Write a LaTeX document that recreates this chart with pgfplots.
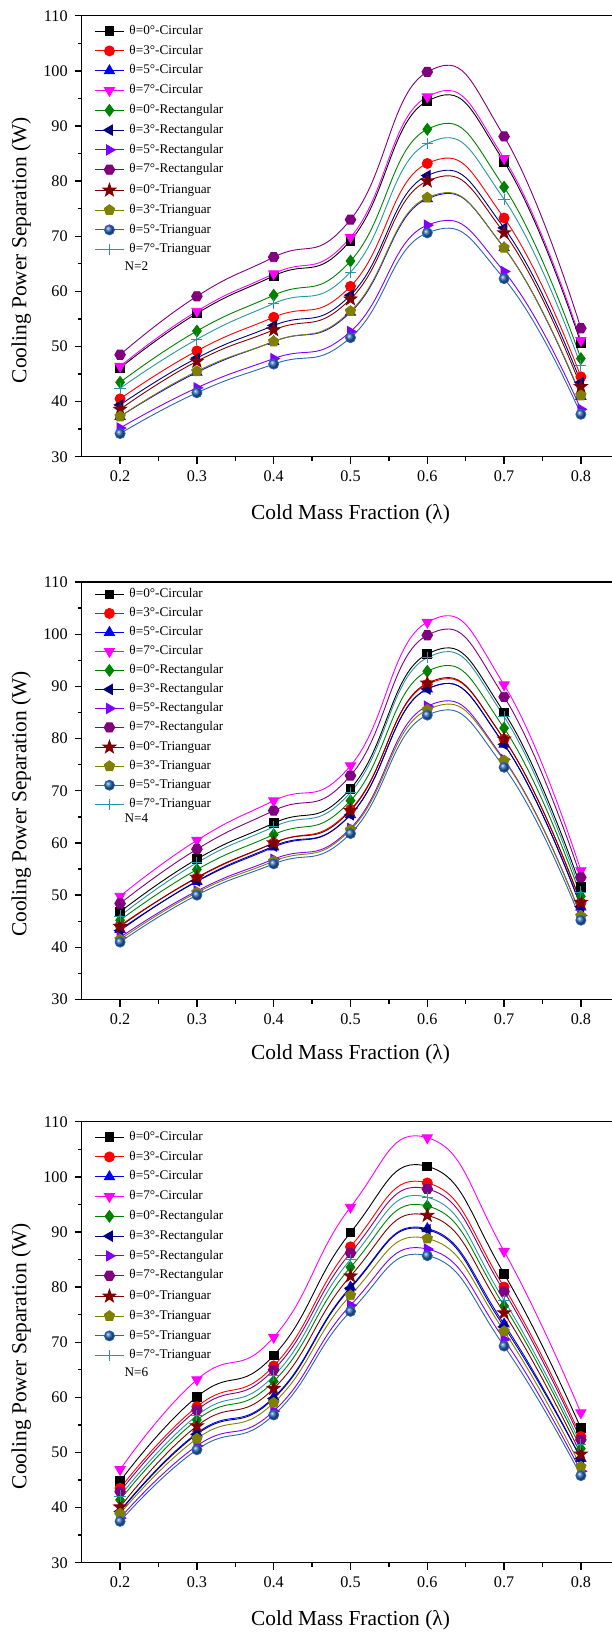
\documentclass[border=0pt]{standalone}
\usepackage{fontspec}
\setmainfont{Liberation Serif}
\usepackage{pgfplots}
\pgfplotsset{compat=1.18}
\usepackage{pgfplotstable}
\usetikzlibrary{plotmarks}

\definecolor{cA}{RGB}{0,0,0}
\definecolor{cB}{RGB}{255,0,0}
\definecolor{cC}{RGB}{0,0,255}
\definecolor{cD}{RGB}{255,0,255}
\definecolor{rA}{RGB}{0,128,0}
\definecolor{rB}{RGB}{0,0,128}
\definecolor{rC}{RGB}{128,0,255}
\definecolor{rD}{RGB}{128,0,128}
\definecolor{tA}{RGB}{128,0,0}
\definecolor{tB}{RGB}{128,128,0}
\definecolor{tC}{RGB}{40,100,180}
\definecolor{tD}{RGB}{40,150,160}

\pgfdeclareplotmark{hexagon*}{%
  \pgfpathmoveto{\pgfpointpolar{0}{1.1\pgfplotmarksize}}%
  \pgfpathlineto{\pgfpointpolar{60}{1.1\pgfplotmarksize}}%
  \pgfpathlineto{\pgfpointpolar{120}{1.1\pgfplotmarksize}}%
  \pgfpathlineto{\pgfpointpolar{180}{1.1\pgfplotmarksize}}%
  \pgfpathlineto{\pgfpointpolar{240}{1.1\pgfplotmarksize}}%
  \pgfpathlineto{\pgfpointpolar{300}{1.1\pgfplotmarksize}}%
  \pgfpathclose\pgfusepathqfillstroke}
\pgfdeclareplotmark{fstar}{%
  \pgfpathmoveto{\pgfpointpolar{90}{1.3\pgfplotmarksize}}%
  \pgfpathlineto{\pgfpointpolar{126}{0.52\pgfplotmarksize}}%
  \pgfpathlineto{\pgfpointpolar{162}{1.3\pgfplotmarksize}}%
  \pgfpathlineto{\pgfpointpolar{198}{0.52\pgfplotmarksize}}%
  \pgfpathlineto{\pgfpointpolar{234}{1.3\pgfplotmarksize}}%
  \pgfpathlineto{\pgfpointpolar{270}{0.52\pgfplotmarksize}}%
  \pgfpathlineto{\pgfpointpolar{306}{1.3\pgfplotmarksize}}%
  \pgfpathlineto{\pgfpointpolar{342}{0.52\pgfplotmarksize}}%
  \pgfpathlineto{\pgfpointpolar{18}{1.3\pgfplotmarksize}}%
  \pgfpathlineto{\pgfpointpolar{54}{0.52\pgfplotmarksize}}%
  \pgfpathclose\pgfusepathqfillstroke}

\pgfplotstableread{
x    c0    c3    c5    c7    r0    r3    r5    r7    t0    t3    t5    t7
0.2  46.1  40.5  37.3  46.4  43.5  39.4  35.2  48.5  38.6  37.3  34.2  42.4
0.3  56.0  49.2  45.3  56.4  52.8  47.9  42.5  59.1  47.3  45.5  41.6  51.3
0.4  62.8  55.3  50.9  63.2  59.3  53.8  47.8  66.2  53.0  50.9  46.8  57.8
0.5  69.2  60.9  56.2  69.8  65.5  59.3  52.7  73.0  58.6  56.4  51.6  63.5
0.6  94.5  83.2  76.8  95.3  89.4  81.0  72.0  99.8  80.0  77.0  70.6  86.8
0.7  83.5  73.3  67.9  84.1  78.9  71.5  63.6  88.1  70.6  67.9  62.3  76.7
0.8  50.6  44.5  40.9  51.1  47.8  43.5  38.6  53.3  42.7  41.1  37.7  46.5
}\tabA
\pgfplotstableread{
x    c0    c3    c5    c7    r0    r3    r5    r7    t0    t3    t5    t7
0.2  46.8  44.2  43.4  49.8  45.2  43.2  41.9  48.4  44.0  41.5  41.0  46.0
0.3  56.9  53.3  52.6  60.5  54.9  52.7  50.8  58.8  53.4  50.5  50.0  56.2
0.4  63.8  60.0  59.2  68.1  61.6  59.4  56.9  66.2  60.0  56.5  56.0  63.1
0.5  70.4  66.4  65.4  74.8  68.1  65.4  62.8  72.9  66.2  62.5  61.8  69.7
0.6  96.2  90.4  89.5  102.3 92.9  89.5  86.2  99.8  90.6  85.5  84.5  95.5
0.7  85.0  79.9  78.9  90.3  82.0  78.9  76.0  88.0  79.9  75.8  74.5  84.2
0.8  51.5  48.5  47.7  54.7  49.8  47.8  46.1  53.4  48.6  46.0  45.2  50.6
}\tabB
\pgfplotstableread{
x    c0    c3    c5    c7    r0    r3    r5    r7    t0    t3    t5    t7
0.2  44.8  43.5  39.4  46.9  41.4  39.3  38.1  42.9  40.1  38.9  37.5  42.1
0.3  60.1  58.3  53.5  63.2  55.9  53.3  51.2  57.7  54.8  52.5  50.5  56.7
0.4  67.6  65.7  60.0  70.9  62.9  59.8  57.5  65.0  61.6  59.0  56.8  63.9
0.5  89.9  87.3  80.0  94.5  83.6  79.8  76.7  86.2  82.0  78.5  75.6  85.0
0.6  101.9 98.9  90.6  107.1 94.7  90.4  86.9  97.8  93.0  88.8  85.7  96.3
0.7  82.4  80.0  73.3  86.5  76.6  72.8  70.5  79.2  75.3  72.0  69.3  77.6
0.8  54.4  52.9  48.9  57.2  50.7  48.9  46.6  52.3  49.7  47.4  45.8  51.5
}\tabC

\pgfplotsset{
  panel/.style={
    scale only axis, width=268.8pt, anchor=south west,
    xmin=0.15, xmax=0.85, ymin=30, ymax=110,
    xtick={0.2,0.3,0.4,0.5,0.6,0.7,0.8},
    ytick={30,40,50,60,70,80,90,100,110},
    minor x tick num=1, minor y tick num=1,
    tick align=outside, xtick pos=bottom, ytick pos=left,
    major tick length=3.5pt, minor tick length=2pt,
    axis line style={line width=0.75pt},
    every tick/.append style={line width=0.7pt, black},
    tick label style={font=\fontsize{8.1}{9}\selectfont},
    /pgf/number format/assume math mode=true,
    label style={font=\fontsize{10.7}{12}\selectfont},
    xlabel={Cold Mass Fraction (λ)},
    ylabel={Cooling Power Separation (W)},
    ylabel style={at={(axis description cs:-0.1122,0.468)}, anchor=center},
    xlabel style={at={(axis description cs:0.5,-0.13)}, anchor=center},
    legend style={draw=none, fill=none, font=\fontsize{6.6}{7}\selectfont,
      at={(axis description cs:0,1)}, anchor=north west,
      xshift=6.15pt, yshift=-4.5pt, inner sep=0pt, row sep=3.9pt,
      column sep=2.5pt,
      nodes={inner sep=0pt, text height=4.6pt, text depth=1.4pt, anchor=west}},
    legend cell align=left,
    legend image code/.code={\draw[mark repeat=2,mark phase=2] plot coordinates {(0pt,0pt) (7.3pt,0pt) (14.6pt,0pt)};},
    every axis plot/.append style={line width=0.45pt, smooth, tension=0.85, mark size=2.5pt},
  },
  sc0/.style={color=cA, mark=square*, mark size=2.2pt},
  sc3/.style={color=cB, mark=*},
  sc5/.style={color=cC, mark=triangle*, mark size=2.9pt},
  sc7/.style={color=cD, mark=triangle*, mark size=2.9pt, mark options={rotate=180}},
  sr0/.style={color=rA, mark=diamond*, mark size=2.9pt},
  sr3/.style={color=rB, mark=triangle*, mark size=2.9pt, mark options={rotate=90}},
  sr5/.style={color=rC, mark=triangle*, mark size=2.9pt, mark options={rotate=-90}},
  sr7/.style={color=rD, mark=hexagon*, mark size=2.4pt},
  st0/.style={color=tA, mark=fstar, mark size=2.6pt},
  st3/.style={color=tB, mark=pentagon*, mark size=2.7pt},
  st5/.style={color=tC, mark=ball, mark options={ball color=tC}},
  st7/.style={color=tD, mark=+, mark size=2.8pt},
}

\newcommand\allplots[1]{%
  \addplot[sc0] table[x=x,y=c0]{#1}; \addlegendentry{θ=0°-Circular}
  \addplot[sc3] table[x=x,y=c3]{#1}; \addlegendentry{θ=3°-Circular}
  \addplot[sc5] table[x=x,y=c5]{#1}; \addlegendentry{θ=5°-Circular}
  \addplot[sc7] table[x=x,y=c7]{#1}; \addlegendentry{θ=7°-Circular}
  \addplot[sr0] table[x=x,y=r0]{#1}; \addlegendentry{θ=0°-Rectangular}
  \addplot[sr3] table[x=x,y=r3]{#1}; \addlegendentry{θ=3°-Rectangular}
  \addplot[sr5] table[x=x,y=r5]{#1}; \addlegendentry{θ=5°-Rectangular}
  \addplot[sr7] table[x=x,y=r7]{#1}; \addlegendentry{θ=7°-Rectangular}
  \addplot[st0] table[x=x,y=t0]{#1}; \addlegendentry{θ=0°-Trianguar}
  \addplot[st3] table[x=x,y=t3]{#1}; \addlegendentry{θ=3°-Trianguar}
  \addplot[st5] table[x=x,y=t5]{#1}; \addlegendentry{θ=5°-Trianguar}
  \addplot[st7] table[x=x,y=t7]{#1}; \addlegendentry{θ=7°-Trianguar}
}

\begin{document}
\begin{tikzpicture}
\begin{axis}[panel, height=220.5pt, at={(40.85pt,-228.35pt)}]
  \allplots{\tabA}
  \node[anchor=west, font=\fontsize{6.6}{7}\selectfont, inner sep=0pt] at (axis description cs:0.0792,0.433) {N=2};
\end{axis}
\begin{axis}[panel, height=208.75pt, at={(40.85pt,-499.75pt)}, legend style={row sep=3.5pt, yshift=1.5pt}]
  \allplots{\tabB}
  \node[anchor=west, font=\fontsize{6.6}{7}\selectfont, inner sep=0pt] at (axis description cs:0.0792,0.434) {N=4};
\end{axis}
\begin{axis}[panel, height=220.5pt, at={(40.85pt,-781.35pt)}]
  \allplots{\tabC}
  \node[anchor=west, font=\fontsize{6.6}{7}\selectfont, inner sep=0pt] at (axis description cs:0.0792,0.432) {N=6};
\end{axis}
\pgfresetboundingbox
\path[use as bounding box] (0pt,0pt) rectangle (305.5pt,-817pt);
\end{tikzpicture}
\end{document}
